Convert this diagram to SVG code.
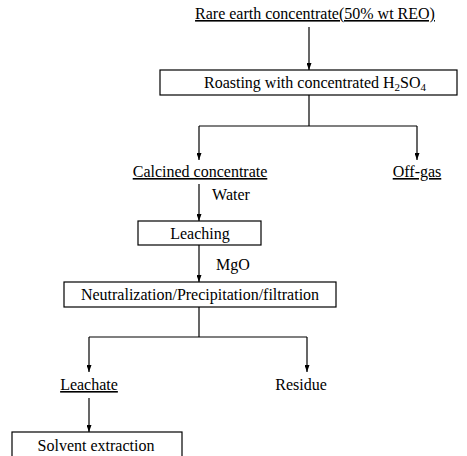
<svg xmlns="http://www.w3.org/2000/svg" width="467" height="456" viewBox="0 0 467 456">
<defs>
<marker id="ah" viewBox="0 0 7 5" refX="7" refY="2.5" markerWidth="7" markerHeight="5" markerUnits="userSpaceOnUse" orient="auto">
<path d="M0,0 L7,2.5 L0,5 Z" fill="#000" stroke="none"/>
</marker>
</defs>
<style>
text{font-family:"Liberation Serif","Times New Roman",serif;font-size:16px;fill:#000;text-anchor:middle}
.u{text-decoration:underline}
.box{fill:#fff;stroke:#000;stroke-width:1.2}
.c line,.c path{stroke:#000;stroke-width:1.2;fill:none}
.a{marker-end:url(#ah)}
</style>
<rect width="467" height="456" fill="#fff"/>
<g class="c" id="connectors">
<line class="a" x1="309" y1="27" x2="309" y2="70"/>
<path d="M309,95 V126 M199,126 H417"/>
<line class="a" x1="199" y1="126" x2="199" y2="160"/>
<line class="a" x1="417" y1="126" x2="417" y2="160"/>
<line class="a" x1="199" y1="184" x2="199" y2="221"/>
<line class="a" x1="199" y1="245" x2="199" y2="282"/>
<path d="M199,307 V337 M89,337 H307"/>
<line class="a" x1="89" y1="337" x2="89" y2="372"/>
<line class="a" x1="307" y1="337" x2="307" y2="372"/>
<line class="a" x1="89" y1="398" x2="89" y2="432"/>
</g>
<g id="n-concentrate"><text class="u" x="315" y="19">Rare earth concentrate(50% wt REO)</text></g>
<g id="n-roasting"><rect class="box" x="160" y="70" width="297" height="25"/><text x="315" y="88">Roasting with concentrated H<tspan font-size="11" dy="3">2</tspan><tspan dy="-3">SO</tspan><tspan font-size="11" dy="3">4</tspan></text></g>
<g id="n-calcined"><text class="u" x="200" y="177">Calcined concentrate</text></g>
<g id="n-offgas"><text class="u" x="417" y="177">Off-gas</text></g>
<g id="l-water"><text x="231" y="200">Water</text></g>
<g id="n-leaching"><rect class="box" x="138" y="221" width="123" height="24"/><text x="200" y="239">Leaching</text></g>
<g id="l-mgo"><text x="233" y="270">MgO</text></g>
<g id="n-neutral"><rect class="box" x="64" y="282" width="272" height="25"/><text x="200" y="300">Neutralization/Precipitation/filtration</text></g>
<g id="n-leachate"><text class="u" x="89" y="390">Leachate</text></g>
<g id="n-residue"><text x="301" y="390">Residue</text></g>
<g id="n-solvent"><rect class="box" x="12" y="432" width="170" height="30"/><text x="96" y="451">Solvent extraction</text></g>
</svg>
